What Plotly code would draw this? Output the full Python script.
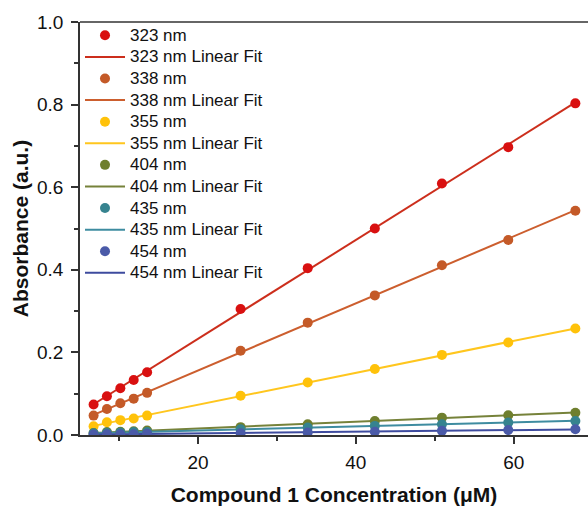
import numpy as np
import plotly.graph_objects as go

conc = [6.78, 8.47, 10.17, 11.86, 13.56, 25.4, 33.9, 42.4, 50.9, 59.3, 67.8]

abs_323 = [0.074, 0.094, 0.113, 0.133, 0.152, 0.305, 0.404, 0.500, 0.609, 0.697, 0.803]
abs_338 = [0.047, 0.063, 0.077, 0.088, 0.102, 0.204, 0.272, 0.338, 0.411, 0.472, 0.543]
abs_355 = [0.021, 0.031, 0.036, 0.040, 0.047, 0.095, 0.127, 0.160, 0.194, 0.224, 0.258]
abs_404 = [0.005, 0.007, 0.008, 0.009, 0.011, 0.019, 0.026, 0.034, 0.042, 0.048, 0.054]
abs_435 = [0.004, 0.005, 0.006, 0.007, 0.007, 0.014, 0.018, 0.022, 0.026, 0.030, 0.034]
abs_454 = [0.001, 0.002, 0.002, 0.002, 0.003, 0.004, 0.006, 0.008, 0.010, 0.012, 0.014]

labels = ["323 nm", "338 nm", "355 nm", "404 nm", "435 nm", "454 nm"]
series = [abs_323, abs_338, abs_355, abs_404, abs_435, abs_454]
marker_colors = ["#D91010", "#C45A28", "#FFC20A", "#6F7F2E", "#36838F", "#4A5AA8"]
line_colors = ["#CC2E1C", "#CC5E2E", "#FFC61E", "#76823A", "#3E8CA0", "#3E4B9E"]

LEG = '<span style="font-size:17px">%s</span>'

fig = go.Figure()
x = np.array(conc)
line_traces, marker_traces = [], []
rank = 0
for lab, ys, mc, lc in zip(labels, series, marker_colors, line_colors):
    k, b = np.polyfit(x, np.array(ys), 1)
    xf = [float(x.min()), float(x.max())]
    marker_traces.append(go.Scatter(x=conc, y=ys, mode="markers", name=LEG % lab,
                                    marker=dict(color=mc, size=10), legendrank=rank))
    line_traces.append(go.Scatter(x=xf, y=[k * v + b for v in xf], mode="lines",
                                  name=LEG % (lab + " Linear Fit"),
                                  line=dict(color=lc, width=2), legendrank=rank + 1))
    rank += 2
for tr in line_traces + marker_traces:
    fig.add_trace(tr)

font = "Liberation Sans, Arial, sans-serif"
axis_common = dict(showline=True, linecolor="#333", linewidth=1.5,
                   ticks="outside", ticklen=7, tickwidth=1.5, tickcolor="#333",
                   showgrid=False, zeroline=False,
                   tickfont=dict(size=19, color="#111"))
fig.update_layout(
    width=588, height=506,
    margin=dict(l=80, r=0, t=22, b=71),
    plot_bgcolor="white", paper_bgcolor="white",
    font=dict(family=font, size=17, color="#111"),
    showlegend=True,
    legend=dict(x=0.0, y=1.006, xanchor="left", yanchor="top",
                bgcolor="rgba(0,0,0,0)", font=dict(size=14.3, color="#111"),
                tracegroupgap=0, itemwidth=40, maxheight=1),
    xaxis=dict(range=[5.06, 69.4], tickvals=[20, 40, 60],
               ticklabelstandoff=2,
               minor=dict(tickvals=[10, 30, 50], ticks="outside", ticklen=4,
                          tickwidth=1.5, tickcolor="#333"),
               title=dict(text="<b>Compound 1 Concentration (μM)</b>",
                          font=dict(size=21, color="#111"), standoff=16),
               **axis_common),
    yaxis=dict(range=[0, 1], tickvals=[0, 0.2, 0.4, 0.6, 0.8, 1.0], tickformat=".1f",
               ticklabelstandoff=4,
               minor=dict(tickvals=[0.1, 0.3, 0.5, 0.7, 0.9], ticks="outside",
                          ticklen=4, tickwidth=1.5, tickcolor="#333"),
               title=dict(text="<b>Absorbance (a.u.)</b>",
                          font=dict(size=21, color="#111"), standoff=3),
               **axis_common),
)
fig.add_shape(type="line", xref="paper", yref="paper", x0=0, x1=1, y0=1, y1=1,
              line=dict(color="#333", width=1.5))

fig.write_html("out.html")
